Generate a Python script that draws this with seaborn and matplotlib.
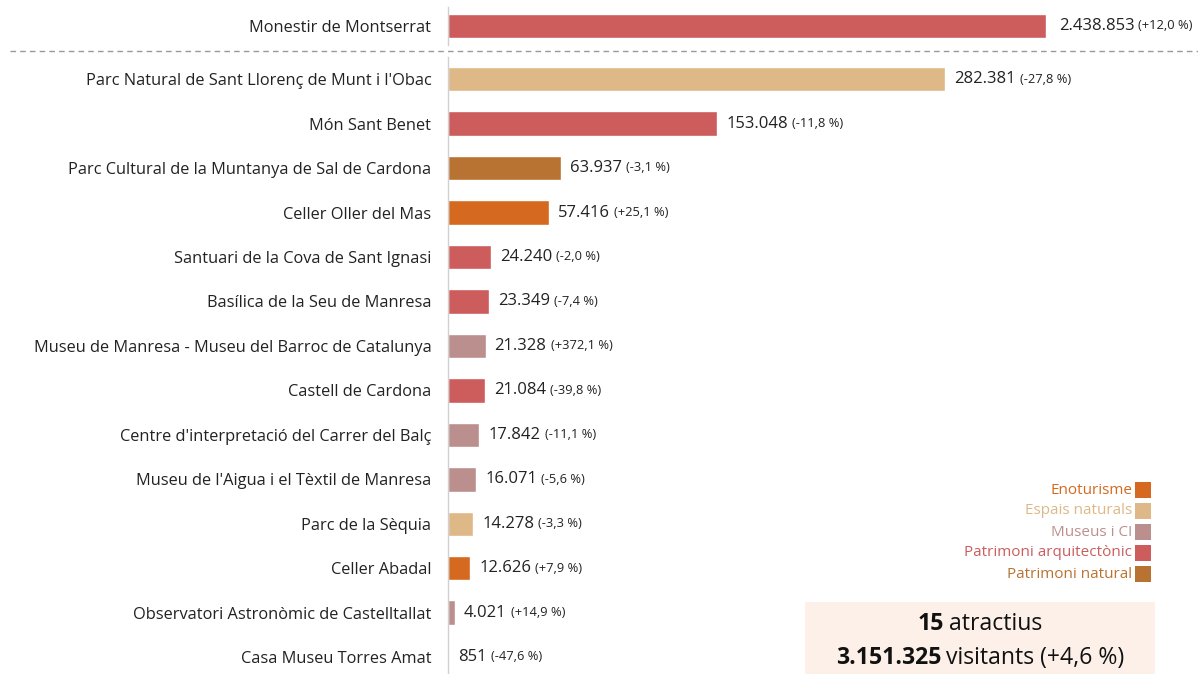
import matplotlib
matplotlib.use("Agg")
import matplotlib.pyplot as plt
import seaborn as sns
import pandas as pd
from matplotlib.patches import Rectangle
from matplotlib.lines import Line2D

# dades
noms = ["Monestir de Montserrat",
        "Parc Natural de Sant Llorenç de Munt i l'Obac",
        "Món Sant Benet",
        "Parc Cultural de la Muntanya de Sal de Cardona",
        "Celler Oller del Mas",
        "Santuari de la Cova de Sant Ignasi",
        "Basílica de la Seu de Manresa",
        "Museu de Manresa - Museu del Barroc de Catalunya",
        "Castell de Cardona",
        "Centre d'interpretació del Carrer del Balç",
        "Museu de l'Aigua i el Tèxtil de Manresa",
        "Parc de la Sèquia",
        "Celler Abadal",
        "Observatori Astronòmic de Castelltallat",
        "Casa Museu Torres Amat"]
visitants = [2438853, 282381, 153048, 63937, 57416, 24240, 23349, 21328,
             21084, 17842, 16071, 14278, 12626, 4021, 851]
variacio = ["+12,0 %", "-27,8 %", "-11,8 %", "-3,1 %", "+25,1 %", "-2,0 %",
            "-7,4 %", "+372,1 %", "-39,8 %", "-11,1 %", "-5,6 %", "-3,3 %",
            "+7,9 %", "+14,9 %", "-47,6 %"]
tipus = ["Patrimoni arquitectònic", "Espais naturals", "Patrimoni arquitectònic",
         "Patrimoni natural", "Enoturisme", "Patrimoni arquitectònic",
         "Patrimoni arquitectònic", "Museus i CI", "Patrimoni arquitectònic",
         "Museus i CI", "Museus i CI", "Espais naturals", "Enoturisme",
         "Museus i CI", "Museus i CI"]

categories = ["Enoturisme", "Espais naturals", "Museus i CI",
              "Patrimoni arquitectònic", "Patrimoni natural"]
colors = ["#D4691F", "#DEB887", "#BC8F8F", "#CD5C5C", "#B87333"]
palette = dict(zip(categories, colors))

total_atractius = "15"
total_visitants = "3.151.325"
total_variacio = "visitants (+4,6 %)"

def fmt(v):
    return f"{v:,}".replace(",", ".")

df = pd.DataFrame({"nom": noms, "visitants": visitants,
                   "variacio": variacio, "tipus": tipus})

sns.set_style("white")
plt.rcParams["font.family"] = ["Open Sans", "DejaVu Sans"]

fig = plt.figure(figsize=(11.98, 6.74), dpi=100)
ax_top = fig.add_axes([448 / 1198, (674 - 45) / 674, 750 / 1198, 38 / 674])
ax_bot = fig.add_axes([448 / 1198, 0, 750 / 1198, 617 / 674])

def dibuixa(ax, d, xmax, ylim, off):
    sns.barplot(data=d, x="visitants", y="nom", hue="tipus", palette=palette,
                dodge=False, width=0.55, orient="h", legend=False, ax=ax,
                saturation=1)
    ax.set_xlim(0, xmax)
    ax.set_ylim(*ylim)
    ax.set_xlabel("")
    ax.set_ylabel("")
    ax.set_xticks([])
    ax.patch.set_visible(False)
    for s in ["top", "right", "bottom"]:
        ax.spines[s].set_visible(False)
    ax.spines["left"].set_color("#d0d0d0")
    ax.spines["left"].set_linewidth(1)
    ax.tick_params(axis="y", length=0, pad=12, labelsize=11.8, labelcolor="#222222")
    for i, (v, p) in enumerate(zip(d["visitants"], d["variacio"])):
        t = ax.annotate(fmt(v), xy=(v, i), xytext=(off, 0), textcoords="offset points",
                        va="center", ha="left", fontsize=12, color="#222222")
        ax.annotate(f"({p})", xy=(1, 0), xycoords=t, xytext=(3, 1.2),
                    textcoords="offset points", va="bottom", ha="left",
                    fontsize=9.3, color="#222222")

dibuixa(ax_top, df.iloc[:1], 3058000, (0.427, -0.427), 9)
dibuixa(ax_bot, df.iloc[1:].reset_index(drop=True), 426000,
        (13.38, -0.5), 6.5)

# línia discontínua separadora
fig.add_artist(Line2D([10 / 1198, 1], [(674 - 51) / 674] * 2, color="#999999",
                      lw=1, ls=(0, (4, 3)), transform=fig.transFigure))

# llegenda
for k, (c, col) in enumerate(zip(categories, colors)):
    yc = 674 - (490 + 21 * k)
    fig.add_artist(Rectangle((1135 / 1198, (yc - 8) / 674), 16 / 1198, 16 / 674,
                             facecolor=col, edgecolor="none",
                             transform=fig.transFigure))
    fig.text(1132 / 1198, yc / 674, c, ha="right", va="center",
             fontsize=11, color=col)

# requadre resum
fig.add_artist(Rectangle((805 / 1198, 0), 350 / 1198, 72 / 674,
                         facecolor="#FCF0E9", edgecolor="none",
                         transform=fig.transFigure, zorder=1))

renderer = fig.canvas.get_renderer()
def linia_mixta(parts, xc, y):
    arts = [fig.text(0, y, s, fontsize=16.6, fontweight=w, color="#111111",
                     va="baseline", ha="left", zorder=3) for s, w in parts]
    amples = [a.get_window_extent(renderer).width for a in arts]
    esp = 5
    total = sum(amples) + esp * (len(arts) - 1)
    x = xc - total / 2
    for a, w in zip(arts, amples):
        a.set_x(x / 1198)
        x += w + esp

linia_mixta([(total_atractius, "bold"), ("atractius", "normal")], 980, (674 - 630) / 674)
linia_mixta([(total_visitants, "bold"), (total_variacio, "normal")], 980, (674 - 664) / 674)

fig.savefig("out.png", dpi=100)
